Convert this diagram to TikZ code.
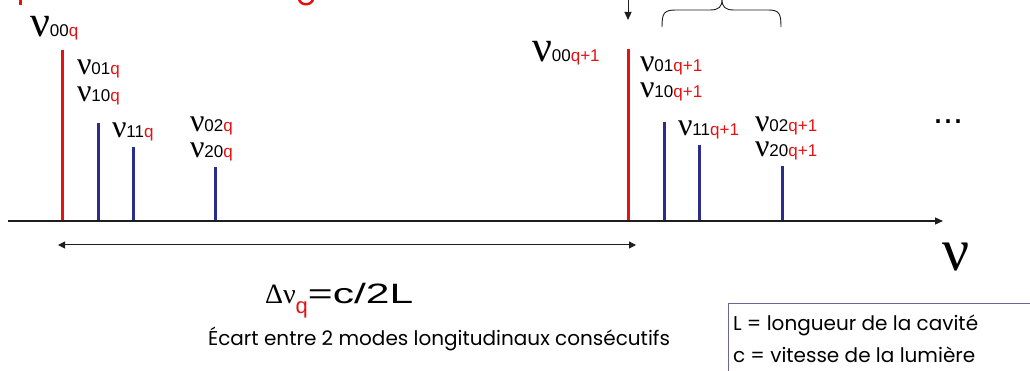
\documentclass[tikz,border=0pt]{standalone}
\usepackage{fontspec}
\setmainfont{Liberation Sans}
\newfontfamily\nufont{Liberation Serif}
\newfontfamily\gothic{Poppins}
\usetikzlibrary{arrows.meta}
\definecolor{lred}{RGB}{230,18,18}
\definecolor{lblue}{RGB}{44,44,140}
\definecolor{boxc}{RGB}{110,100,150}
\definecolor{axc}{RGB}{30,30,30}
\newcommand\modelbl[3][32]{{\fontsize{#1}{#1}\nufont ν}{\fontsize{17}{17}\selectfont #2\textcolor{lred}{#3}}}
\begin{document}
\begin{tikzpicture}[x=1pt,y=-1pt,
  lbl/.style={anchor=base west,inner sep=0pt,outer sep=0pt},
  redline/.style={draw=lred,line width=3pt},
  blueline/.style={draw=lblue,line width=3pt},
  axisline/.style={draw=axc,line width=1.2pt},
  tip/.style={-{Triangle[length=8pt,width=7pt]}}]
\useasboundingbox (0,0) rectangle (1030,371);
\clip (0,0) rectangle (1030,371);
% cut-off red title fragments
\draw[lred,line width=3pt] (20,-1) -- (20,5);
\draw[lred,line width=2.5pt] (299,-1) .. controls (300,6) and (312,6) .. (313,-1);
% axis
\coordinate (axs) at (8,221);
\coordinate (axe) at (943,221);
% spectral lines, group q
\coordinate (b1) at (62,221);  \coordinate (t1) at (62,50);
\coordinate (b2) at (98,221);  \coordinate (t2) at (98,123);
\coordinate (b3) at (133,221); \coordinate (t3) at (133,147);
\coordinate (b4) at (215,221); \coordinate (t4) at (215,167);
% group q+1
\coordinate (b5) at (628,221); \coordinate (t5) at (628,49);
\coordinate (b6) at (664,221); \coordinate (t6) at (664,122);
\coordinate (b7) at (699,221); \coordinate (t7) at (699,145);
\coordinate (b8) at (782,221); \coordinate (t8) at (782,166);
\draw[redline] (b1) -- (t1);
\draw[blueline] (b2) -- (t2);
\draw[blueline] (b3) -- (t3);
\draw[blueline] (b4) -- (t4);
\draw[redline] (b5) -- (t5);
\draw[blueline] (b6) -- (t6);
\draw[blueline] (b7) -- (t7);
\draw[blueline] (b8) -- (t8);
\draw[axisline,tip] (axs) -- (axe);
% labels q
\node[lbl] (n00q) at (30,37) {\modelbl[44]{00}{q}};
\node[lbl] (n01q) at (77,75) {\modelbl{01}{q}};
\node[lbl] (n10q) at (77,102) {\modelbl{10}{q}};
\node[lbl] (n11q) at (112,138) {\modelbl{11}{q}};
\node[lbl] (n02q) at (190,132) {\modelbl{02}{q}};
\node[lbl] (n20q) at (190,158) {\modelbl{20}{q}};
% labels q+1
\node[lbl] (n00p) at (532,62) {\modelbl[44]{00}{q+1}};
\node[lbl] (n01p) at (640,72) {\modelbl{01}{q+1}};
\node[lbl] (n10p) at (640,98) {\modelbl{10}{q+1}};
\node[lbl] (n11p) at (678,136) {\modelbl{11}{q+1}};
\node[lbl] (n02p) at (755,132) {\modelbl{02}{q+1}};
\node[lbl] (n20p) at (755,157) {\modelbl{20}{q+1}};
\node[lbl] (dots) at (933,124) {\fontsize{36}{36}\selectfont ...};
% down arrow and brace
\coordinate (da1) at (628,-2);
\coordinate (da2) at (628,20);
\draw[axisline,line width=1pt,tip] (da1) -- (da2);
\draw[axc,line width=0.9pt] (662,27) .. controls (662,13) and (664,10) .. (676,10)
  -- (710,10) .. controls (719,10) and (722,7) .. (722,-1)
  .. controls (722,7) and (725,10) .. (734,10) -- (768,10)
  .. controls (779,10) and (781,13) .. (781,27);
% frequency axis label
\node[lbl] (nuax) at (942,270) {\fontsize{60}{60}\nufont ν};
% double arrow
\coordinate (dl) at (58,245);
\coordinate (dr) at (636,245);
\draw[axisline,line width=1pt,{Triangle[length=7pt,width=7pt]}-{Triangle[length=7pt,width=7pt]}] (dl) -- (dr);
% formula
\node[lbl] (form) at (265,303) {{\fontsize{28}{28}\nufont Δν}\raisebox{-10pt}{\fontsize{22}{22}\selectfont\color{lred}q}\scalebox{1.52}[1]{\fontsize{28}{28}\selectfont =c/2L}};
\node[anchor=base,inner sep=0pt] (ecart) at (439,345) {\fontsize{20}{20}\gothic Écart entre 2 modes longitudinaux consécutifs};
% legend box
\draw[boxc,line width=1pt] (728,303) rectangle (1040,380);
\node[lbl] (leg1) at (733,330) {\fontsize{20}{20}\gothic L = longueur de la cavité};
\node[lbl] (leg2) at (733,362) {\fontsize{20}{20}\gothic c = vitesse de la lumière};
\end{tikzpicture}
\end{document}
